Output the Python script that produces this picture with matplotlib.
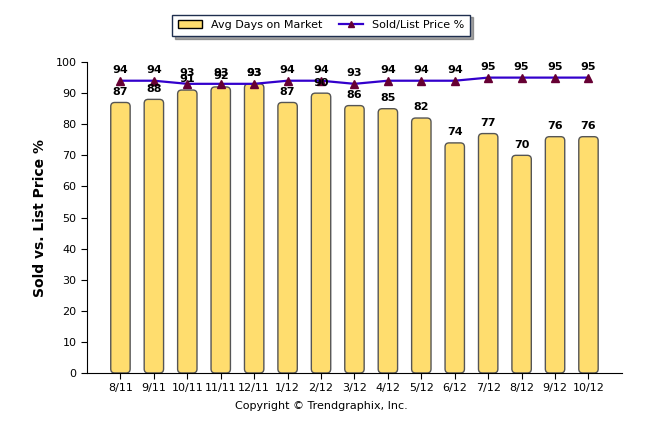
import matplotlib
matplotlib.use('Agg')
import matplotlib.pyplot as plt
from matplotlib.patches import FancyBboxPatch
from matplotlib.lines import Line2D
from matplotlib.patches import Patch

months = ['8/11', '9/11', '10/11', '11/11', '12/11', '1/12', '2/12', '3/12',
          '4/12', '5/12', '6/12', '7/12', '8/12', '9/12', '10/12']
avg_days = [87, 88, 91, 92, 93, 87, 90, 86, 85, 82, 74, 77, 70, 76, 76]
sold_list = [94, 94, 93, 93, 93, 94, 94, 93, 94, 94, 94, 95, 95, 95, 95]

fig = plt.figure(figsize=(6.46, 4.34), dpi=100)
ax = fig.add_axes([0.1347, 0.1406, 0.828, 0.7164])

x = list(range(len(months)))
bars = ax.bar(x, avg_days, width=0.58, color='#FFDD6E', edgecolor='#555555',
              linewidth=1, zorder=2)
# swap plain bars for rounded ones
for b in bars:
    bx, by = b.get_xy()
    p = FancyBboxPatch((bx, by), b.get_width(), b.get_height(),
                       boxstyle='round,pad=0,rounding_size=0.12',
                       mutation_aspect=10.7, facecolor='#FFDD6E',
                       edgecolor='#555555', linewidth=1, zorder=2)
    ax.add_patch(p)
    b.set_visible(False)

ax.plot(x, sold_list, color='#3300CC', linewidth=1.6, zorder=3,
        marker='^', markersize=6, markerfacecolor='#660033',
        markeredgecolor='#660033')

for i in x:
    ax.annotate(str(avg_days[i]), (i, avg_days[i]), xytext=(0, 4),
                textcoords='offset points', ha='center', va='bottom',
                fontsize=8, fontweight='bold', zorder=4)
    ax.annotate(str(sold_list[i]), (i, sold_list[i]), xytext=(0, 4),
                textcoords='offset points', ha='center', va='bottom',
                fontsize=8, fontweight='bold', zorder=4)

ax.set_xlim(-1, 15)
ax.set_ylim(0, 100)
ax.set_yticks(range(0, 101, 10))
ax.set_xticks(x)
ax.set_xticklabels(months)
ax.tick_params(labelsize=8, length=4, color='black')
ax.spines['top'].set_visible(False)
ax.spines['right'].set_visible(False)
ax.set_ylabel('Sold vs. List Price %', fontsize=10, fontweight='bold', labelpad=6)

handles = [Patch(facecolor='#FFDD6E', edgecolor='black', label='Avg Days on Market'),
           Line2D([0], [0], color='#3300CC', linewidth=1.6, marker='^', markersize=4,
                  markerfacecolor='#660033', markeredgecolor='#660033',
                  label='Sold/List Price %')]
leg = fig.legend(handles=handles, loc='center', bbox_to_anchor=(0.497, 0.942),
                 ncol=2, fontsize=8, frameon=True, fancybox=False, shadow=True,
                 edgecolor='#1F2F4F', handlelength=2.2, columnspacing=1.5,
                 borderpad=0.5)

fig.text(0.497, 0.058, 'Copyright \u00a9 Trendgraphix, Inc.', ha='center', fontsize=8)

fig.savefig('out.png', dpi=100)
